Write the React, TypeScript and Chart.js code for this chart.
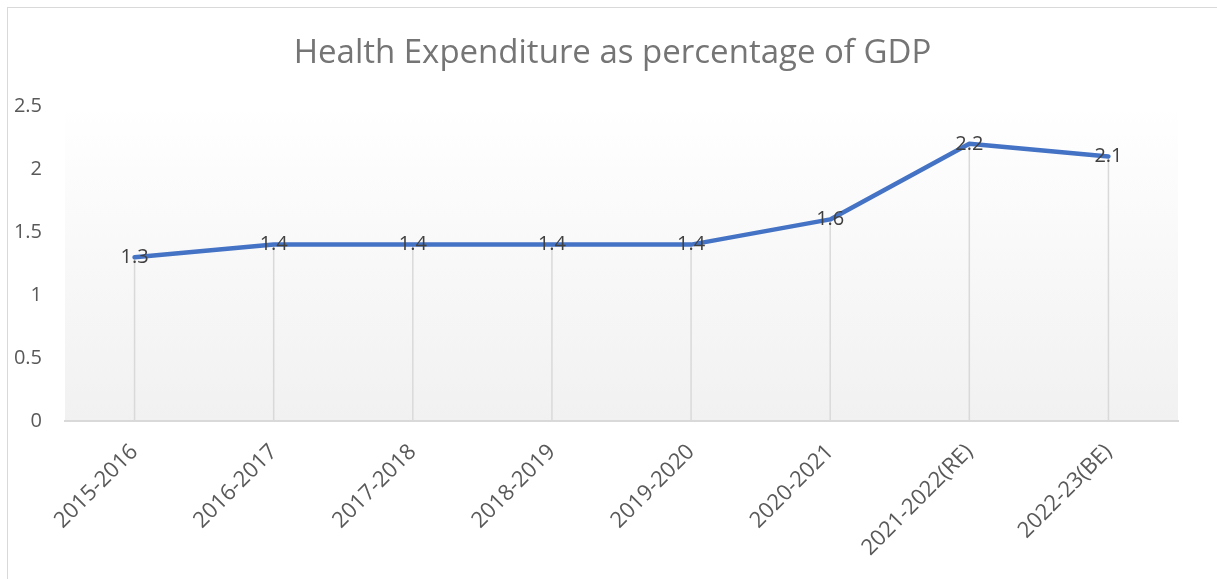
import React, { useEffect, useRef } from "react";
import { Chart, registerables } from "chart.js";

Chart.register(...registerables);

const categories: string[] = [
  "2015-2016",
  "2016-2017",
  "2017-2018",
  "2018-2019",
  "2019-2020",
  "2020-2021",
  "2021-2022(RE)",
  "2022-23(BE)",
];
const healthPctGdp: number[] = [1.3, 1.4, 1.4, 1.4, 1.4, 1.6, 2.2, 2.1];
const titleText = "Health Expenditure as percentage of GDP";
const yMin = 0;
const yMax = 2.5;
const yStep = 0.5;

const FONT = "'Open Sans', 'Noto Sans', sans-serif";

const plotBackground = {
  id: "plotBackground",
  beforeDraw(chart: any) {
    const { ctx, chartArea } = chart;
    const g = ctx.createLinearGradient(0, chartArea.top, 0, chartArea.bottom);
    g.addColorStop(0, "#ffffff");
    g.addColorStop(1, "#f1f1f1");
    ctx.save();
    ctx.fillStyle = g;
    ctx.fillRect(chartArea.left, chartArea.top, chartArea.right - chartArea.left, chartArea.bottom - chartArea.top);
    ctx.restore();
  },
};

const dropLines = {
  id: "dropLines",
  beforeDatasetsDraw(chart: any) {
    const { ctx, chartArea } = chart;
    const meta = chart.getDatasetMeta(0);
    ctx.save();
    ctx.strokeStyle = "#d9d9d9";
    ctx.lineWidth = 1.5;
    meta.data.forEach((pt: any) => {
      ctx.beginPath();
      ctx.moveTo(pt.x, pt.y);
      ctx.lineTo(pt.x, chartArea.bottom);
      ctx.stroke();
    });
    ctx.restore();
  },
};

const dataLabels = {
  id: "dataLabels",
  afterDatasetsDraw(chart: any) {
    const { ctx } = chart;
    const meta = chart.getDatasetMeta(0);
    const values = chart.data.datasets[0].data;
    ctx.save();
    ctx.font = `20px ${FONT}`;
    ctx.fillStyle = "#404040";
    ctx.textAlign = "center";
    ctx.textBaseline = "middle";
    meta.data.forEach((pt: any, i: number) => {
      ctx.fillText(String(values[i]), pt.x, pt.y);
    });
    ctx.restore();
  },
};

export default function App() {
  const canvasRef = useRef<HTMLCanvasElement | null>(null);

  useEffect(() => {
    document.documentElement.style.overflow = "hidden";
    document.body.style.overflow = "hidden";
    const canvas = canvasRef.current;
    if (!canvas) return;
    const chart = new Chart(canvas, {
      type: "line",
      data: {
        labels: categories,
        datasets: [
          {
            label: "Health Expenditure",
            data: healthPctGdp,
            yAxisID: "y",
            borderColor: "#4472C4",
            borderWidth: 4.5,
            pointRadius: 0,
            pointHoverRadius: 0,
            tension: 0,
            fill: false,
            borderCapStyle: "round",
            borderJoinStyle: "round",
          },
        ],
      },
      options: {
        responsive: false,
        animation: false,
        layout: { padding: 0 },
        plugins: {
          legend: { display: false },
          tooltip: { enabled: false },
          title: {
            display: true,
            text: titleText,
            color: "#757575",
            font: { family: FONT, size: 33, weight: "normal" },
            padding: { top: 26, bottom: 32.4 },
          },
        },
        scales: {
          x: {
            type: "category",
            offset: true,
            grid: { display: false, drawTicks: false },
            border: { display: true, color: "#d9d9d9", width: 2 },
            ticks: {
              color: "#595959",
              font: { family: FONT, size: 22 },
              maxRotation: 45,
              minRotation: 45,
              padding: 18,
              autoSkip: false,
            },
            afterFit(scale: any) {
              scale.height = 158;
            },
          },
          y: {
            min: yMin,
            max: yMax,
            grid: { display: false, drawTicks: false },
            border: { display: false },
            ticks: {
              stepSize: yStep,
              color: "#595959",
              font: { family: FONT, size: 20 },
              padding: 23,
              callback: (v: any) => String(Number(v)),
            },
            afterFit(scale: any) {
              scale.width = 57;
            },
          },
          yRightSpace: {
            position: "right",
            min: yMin,
            max: yMax,
            grid: { display: false, drawTicks: false },
            border: { display: false },
            ticks: { display: false },
            afterFit(scale: any) {
              scale.width = 39;
            },
          },
        },
      },
      plugins: [plotBackground, dropLines, dataLabels],
    });
    return () => chart.destroy();
  }, []);

  return (
    <div
      style={{
        position: "absolute",
        left: 7,
        top: 7,
        width: 1209,
        height: 571,
        border: "1px solid #d9d9d9",
        background: "#ffffff",
      }}
    >
      <canvas ref={canvasRef} width={1209} height={571} style={{ display: "block", width: 1209, height: 571 }} />
    </div>
  );
}
